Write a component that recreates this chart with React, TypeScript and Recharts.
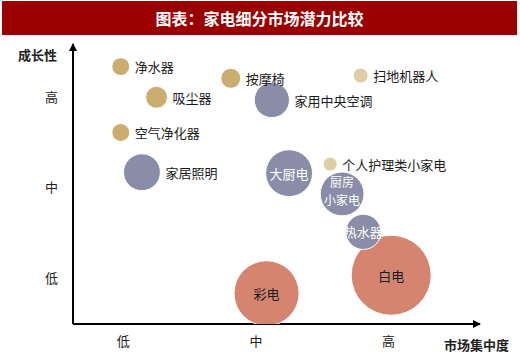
import { Scatter, ScatterChart, XAxis, YAxis, ZAxis } from 'recharts'

// 市场集中度 (x), 成长性 (y): 1 = 低, 2 = 中, 3 = 高; marketSize drives bubble area
const products = [
  '彩电',
  '白电',
  '家居照明',
  '家用中央空调',
  '大厨电',
  '厨房小家电',
  '热水器',
  '净水器',
  '吸尘器',
  '空气净化器',
  '按摩椅',
  '扫地机器人',
  '个人护理类小家电'
]
const concentration = [2.08, 3.02, 1.14, 2.12, 2.25, 2.65, 2.81, 0.98, 1.25, 0.98, 1.81, 2.79, 2.56]
const growth = [0.83, 1.03, 2.17, 2.97, 2.16, 1.93, 1.51, 3.34, 3.0, 2.61, 3.21, 3.24, 2.26]
const marketSize = [106, 160, 34, 31, 55, 48, 31, 8, 12, 8, 10, 5.6, 4.9]
const groups = ['传统', '传统', '厨卫', '厨卫', '厨卫', '厨卫', '厨卫', '新兴', '新兴', '新兴', '新兴', '萌芽', '萌芽']

const levelTicks = [1, 2, 3]
const levelLabels = ['低', '中', '高']

const groupColors: Record<string, string> = {
  传统: '#D5846F',
  厨卫: '#8A8DA8',
  新兴: '#CAAD6F',
  萌芽: '#DFCEA3'
}
const innerLabels = ['彩电', '白电', '大厨电', '厨房小家电', '热水器']
const labelLines: Record<string, string[]> = { 厨房小家电: ['厨房', '小家电'] }

const data = products.map((name, i) => ({
  name,
  x: concentration[i],
  y: growth[i],
  size: marketSize[i],
  group: groups[i]
}))

const renderBubble = (props: any) => {
  const { cx, cy, payload } = props
  const r = props.size ? Math.sqrt(props.size / Math.PI) : props.width / 2
  const inside = innerLabels.includes(payload.name)
  const lines = labelLines[payload.name] ?? [payload.name]
  const textFill = payload.group === '厨卫' ? '#fff' : '#1a1a1a'
  const multi = lines.length > 1
  return (
    <g>
      <circle cx={cx} cy={cy} r={r} fill={groupColors[payload.group]} stroke="#fff" strokeWidth={1} />
      {inside ? (
        lines.map((l, i) => (
          <text
            key={l}
            x={cx}
            y={multi ? cy - 12 + i * 18 : cy}
            textAnchor="middle"
            dominantBaseline="central"
            fontSize={multi ? 12 : 13}
            fill={textFill}
          >
            {l}
          </text>
        ))
      ) : (
        <text x={cx + r + 5} y={cy} dominantBaseline="central" fontSize={13} fill="#1a1a1a">
          {payload.name}
        </text>
      )}
    </g>
  )
}

export default function App() {
  return (
    <div
      style={{
        position: 'relative',
        width: 520,
        height: 360,
        background: '#fff',
        fontFamily: '"Noto Sans CJK SC", sans-serif'
      }}
    >
      <style>{'body{margin:0}'}</style>
      <svg width={0} height={0} style={{ position: 'absolute' }}>
        <defs>
          <marker
            id="arrowHead"
            viewBox="0 0 8 8"
            markerWidth={8}
            markerHeight={8}
            refX={7}
            refY={4}
            markerUnits="userSpaceOnUse"
            orient="auto-start-reverse"
          >
            <path d="M0,0 L8,4 L0,8 z" fill="#000" />
          </marker>
        </defs>
      </svg>
      <ScatterChart width={520} height={360} margin={{ top: 44, right: 40, bottom: 6, left: 13 }}>
        <XAxis
          type="number"
          dataKey="x"
          domain={[0.62, 3.69]}
          ticks={levelTicks}
          tickFormatter={(v) => levelLabels[v - 1]}
          allowDataOverflow
          height={30}
          tickLine={false}
          tickSize={0}
          tickMargin={13}
          tick={{ fontSize: 13, fill: '#222' }}
          axisLine={{ stroke: '#000', strokeWidth: 2, markerEnd: 'url(#arrowHead)' }}
        />
        <YAxis
          type="number"
          dataKey="y"
          domain={[0.49, 3.59]}
          ticks={levelTicks}
          tickFormatter={(v) => levelLabels[v - 1]}
          allowDataOverflow
          width={60}
          tickLine={false}
          tickSize={0}
          tickMargin={15}
          tick={{ fontSize: 13, fill: '#222' }}
          axisLine={{ stroke: '#000', strokeWidth: 2, markerStart: 'url(#arrowHead)' }}
        />
        <ZAxis type="number" dataKey="size" domain={[0, 160]} range={[0, Math.PI * 1600]} />
        <Scatter data={data} shape={renderBubble} isAnimationActive={false} />
      </ScatterChart>
      <div
        style={{
          position: 'absolute',
          left: 2,
          top: 1,
          width: 515,
          height: 34,
          background: '#9B0000',
          color: '#fff',
          fontSize: 16,
          fontWeight: 'bold',
          display: 'flex',
          alignItems: 'center',
          justifyContent: 'center'
        }}
      >
        图表：家电细分市场潜力比较
      </div>
      <div style={{ position: 'absolute', left: 18, top: 47, fontSize: 13, fontWeight: 'bold', color: '#222', lineHeight: '16px' }}>
        成长性
      </div>
      <div style={{ position: 'absolute', left: 444, top: 337, fontSize: 13, fontWeight: 'bold', color: '#222', lineHeight: '16px' }}>
        市场集中度
      </div>
    </div>
  )
}
